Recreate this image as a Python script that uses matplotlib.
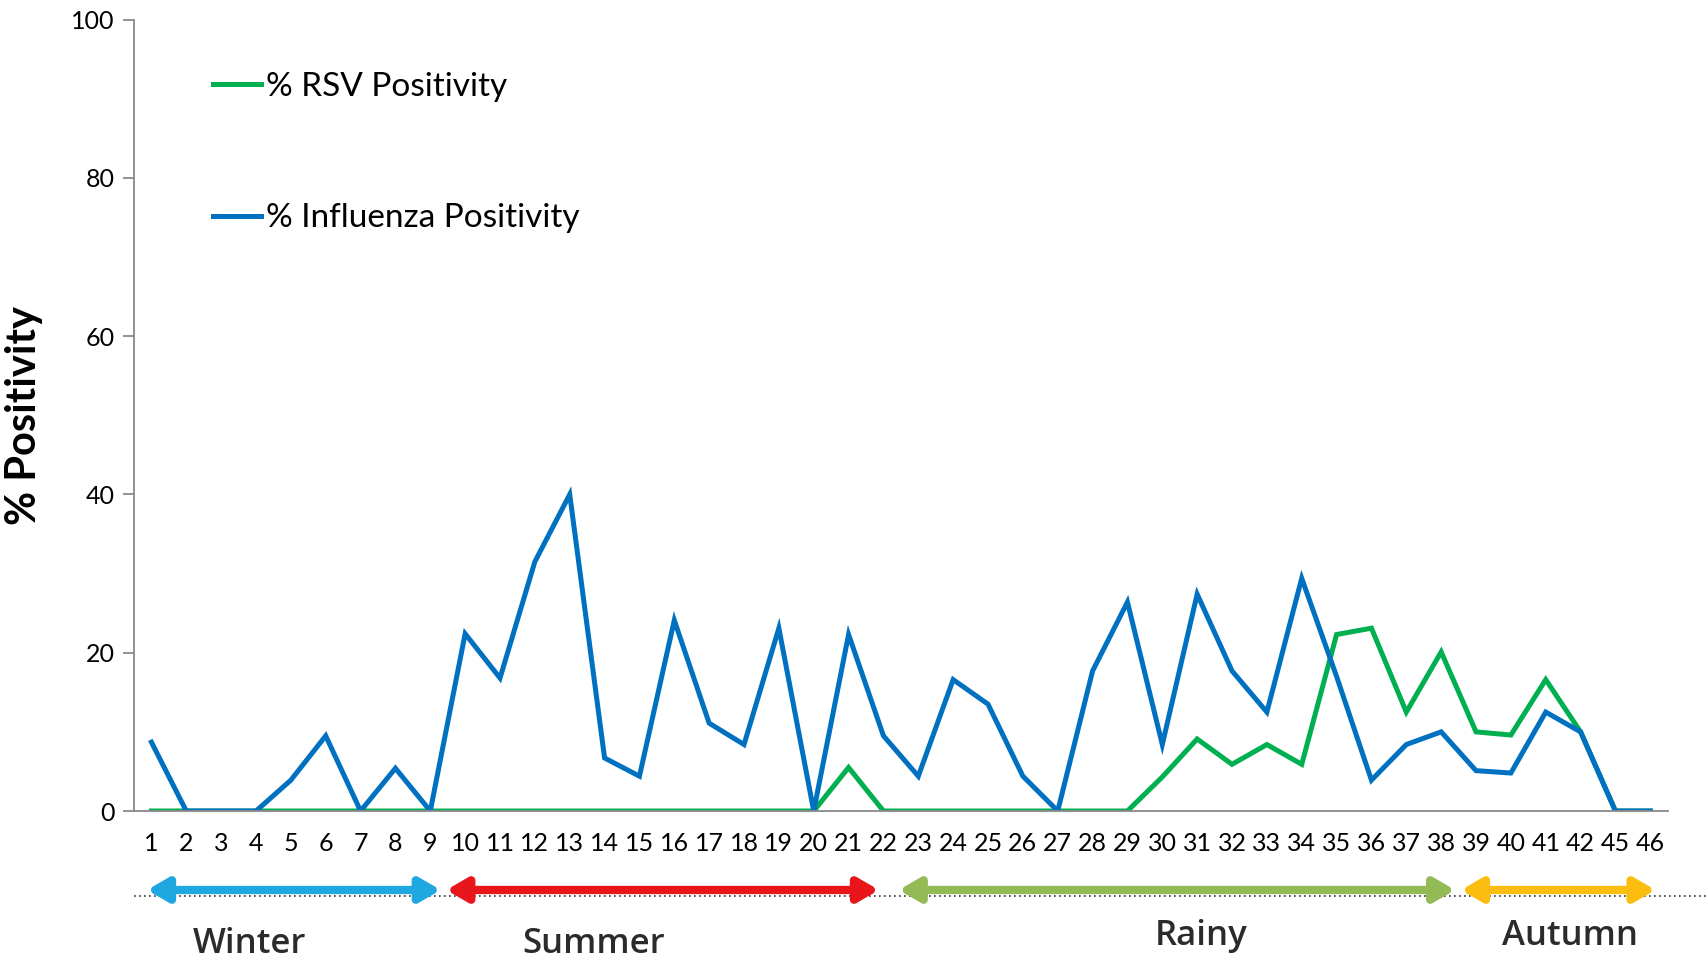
import matplotlib
matplotlib.use("Agg")
import matplotlib.pyplot as plt
from matplotlib.lines import Line2D
import matplotlib.transforms as mtransforms

plt.rcParams['font.family'] = ['Lato', 'DejaVu Sans']

# week labels on the x axis
weeks = [str(w) for w in list(range(1, 43)) + [45, 46]]

rsv = [0, 0, 0, 0, 0, 0, 0, 0, 0, 0,
       0, 0, 0, 0, 0, 0, 0, 0, 0, 0,
       5.5, 0, 0, 0, 0, 0, 0, 0, 0, 4.3,
       9.1, 5.9, 8.4, 5.9, 22.3, 23.1, 12.5, 20.1, 10.0, 9.6,
       16.6, 10.0, 0, 0]

flu = [8.7, 0, 0, 0, 3.9, 9.5, 0, 5.4, 0, 22.4,
       16.8, 31.5, 40.0, 6.7, 4.4, 24.1, 11.1, 8.4, 23.1, 0,
       22.3, 9.5, 4.4, 16.6, 13.5, 4.4, 0, 17.7, 26.4, 8.4,
       27.4, 17.7, 12.5, 29.4, 17.0, 3.9, 8.4, 10.0, 5.1, 4.8,
       12.5, 10.0, 0, 0]

# seasons: (name, start, end, colour) in week-position units
seasons = [
    ("Winter", 0.875, 9.3, "#1FA7E0"),
    ("Summer", 9.46, 21.87, "#E8161B"),
    ("Rainy", 22.44, 38.4, "#92BB55"),
    ("Autumn", 38.57, 44.15, "#FBBE10"),
]
season_label_x = [3.8, 13.7, 31.1, 41.7]
season_label_y = [-0.168, -0.168, -0.158, -0.158]

x = list(range(1, len(weeks) + 1))

fig = plt.figure(figsize=(17.07, 9.64), dpi=100)
ax = fig.add_axes([0.0785, 0.1587, 0.8985, 0.821])

ax.plot(x, rsv, color="#00B050", lw=3.6, label="% RSV Positivity", solid_joinstyle="miter")
ax.plot(x, flu, color="#0070C0", lw=3.6, label="% Influenza Positivity", solid_joinstyle="miter")

ax.set_xlim(0.5, len(weeks) + 0.5)
ax.set_ylim(0, 100)
ax.set_yticks([0, 20, 40, 60, 80, 100])
ax.set_xticks(x)
ax.set_xticklabels(weeks)

for s in ["top", "right"]:
    ax.spines[s].set_visible(False)
for s in ["left", "bottom"]:
    ax.spines[s].set_color("#898989")
    ax.spines[s].set_linewidth(1.3)

ax.tick_params(axis="y", direction="out", length=8, width=1.3, color="#898989",
               labelsize=18, pad=6)
ax.tick_params(axis="x", length=0, labelsize=18, pad=15)

ax.set_ylabel("% Positivity", fontsize=30, fontweight="bold", labelpad=20)

leg = ax.legend(loc="upper left", bbox_to_anchor=(0.032, 0.972), frameon=False,
                fontsize=24, handlelength=1.45, handletextpad=0.15, labelspacing=3.05)

# season arrows below the axis
trans = mtransforms.blended_transform_factory(ax.transData, ax.transAxes)
for (name, x0, x1, col), lx, ly in zip(seasons, season_label_x, season_label_y):
    ax.annotate("", xy=(x1, -0.0998), xytext=(x0, -0.0998), xycoords=trans,
                textcoords=trans, annotation_clip=False,
                arrowprops=dict(arrowstyle="<|-|>,head_length=0.6,head_width=0.35",
                                color=col, lw=6, mutation_scale=20, shrinkA=0, shrinkB=0))
    ax.text(lx, ly, name, transform=trans, ha="center", va="center",
            fontsize=25, fontweight="semibold", color="#2b2b2b", clip_on=False,
            family=["Open Sans", "DejaVu Sans"])

fig.add_artist(Line2D([0.0785, 1.0], [0.0705, 0.0705], transform=fig.transFigure,
                      color="#333333", lw=1.2, linestyle=(0, (1, 2)), zorder=0))

fig.savefig("out.png", dpi=100)
